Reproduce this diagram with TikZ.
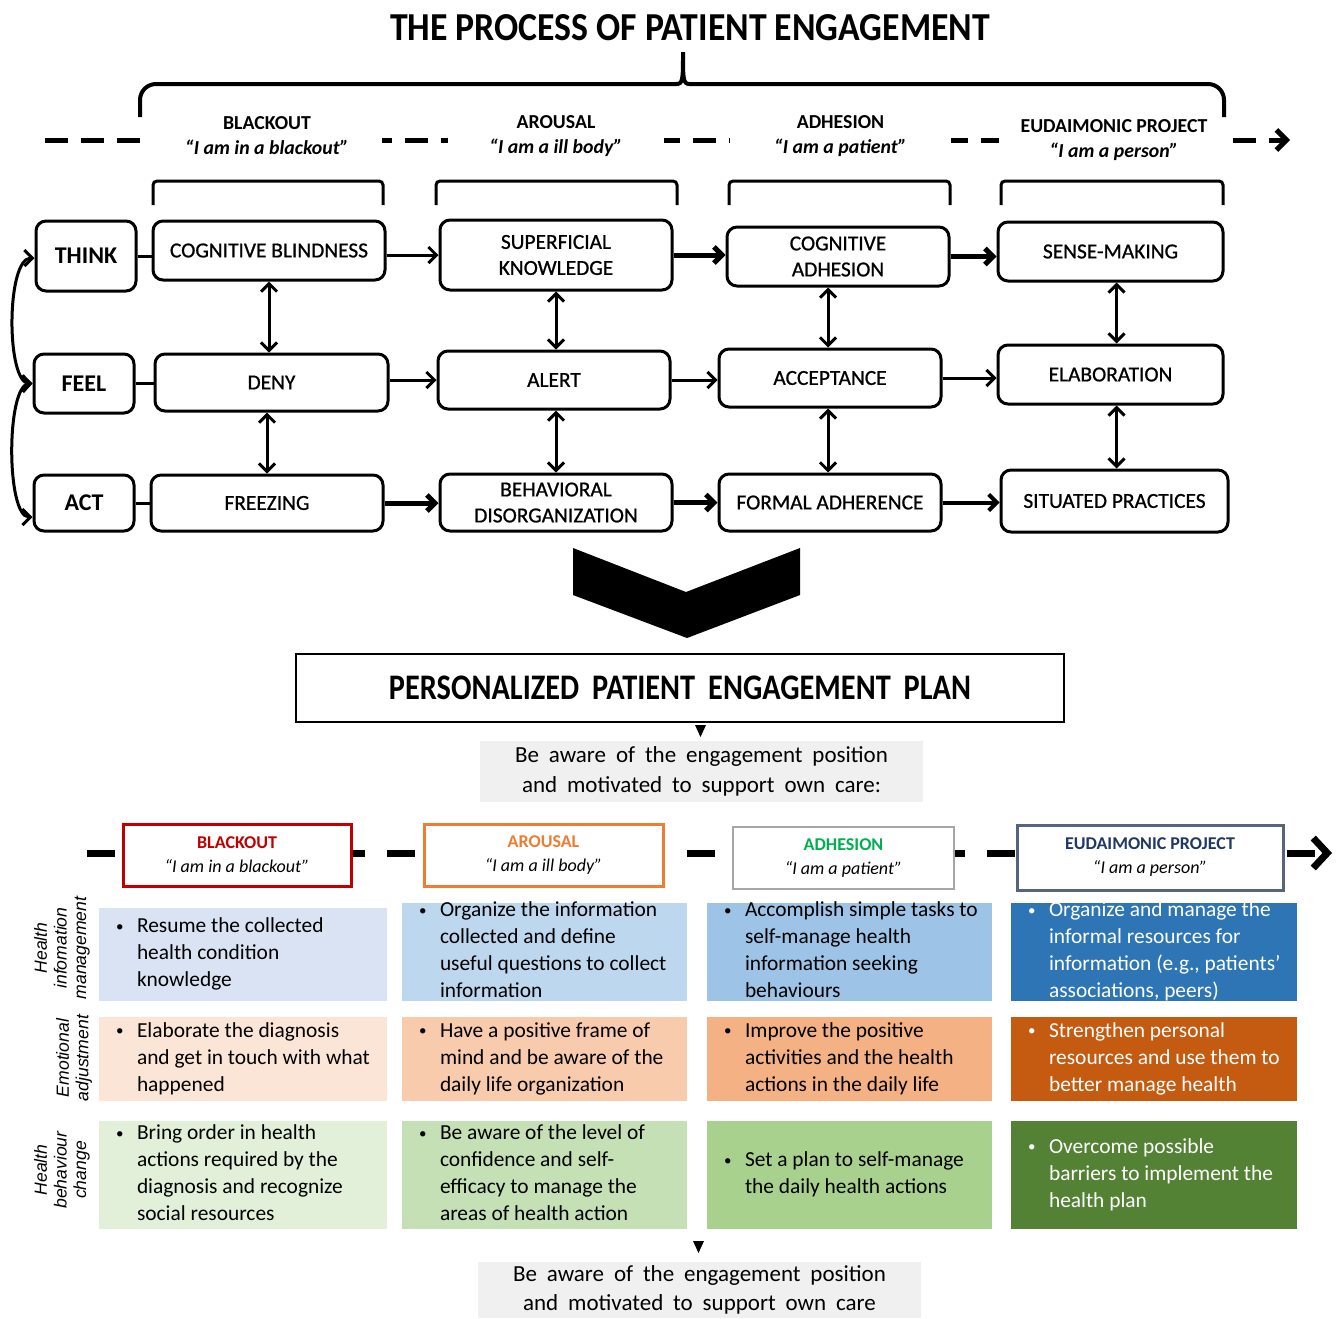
\documentclass[tikz,border=0pt]{standalone}
\usepackage{fontspec}
\setmainfont{Carlito}
\newfontfamily\sidefont{Liberation Sans}
\newfontfamily\widefont{Carlito}[WordSpace=1.9]
\newfontfamily\stagefont{Carlito}[FakeBold=0.8]
\usetikzlibrary{arrows.meta}

\definecolor{bkred}{HTML}{C00000}
\definecolor{arorange}{HTML}{ED7D31}
\definecolor{adgreen}{HTML}{00B050}
\definecolor{eublue}{HTML}{203864}
\definecolor{eugrey}{HTML}{56657A}
\definecolor{adgrey}{HTML}{A6A6A6}
\definecolor{softgrey}{HTML}{F0F0F0}
\definecolor{ia}{HTML}{DAE3F3}
\definecolor{ib}{HTML}{BDD7EE}
\definecolor{ic}{HTML}{9DC3E6}
\definecolor{id}{HTML}{2E75B6}
\definecolor{ea}{HTML}{FBE5D6}
\definecolor{eb}{HTML}{F8CBAD}
\definecolor{ec}{HTML}{F4B183}
\definecolor{ed}{HTML}{C55A11}
\definecolor{ba}{HTML}{E2F0D9}
\definecolor{bb}{HTML}{C5E0B4}
\definecolor{bc}{HTML}{A9D18E}
\definecolor{bd}{HTML}{548235}

% bullet list typeset as a two-column tabular
\newcommand\blist[1]{\begin{tabular}[c]{@{}l@{}l@{}}\makebox[10.5pt][l]{\raisebox{0.15ex}{\scalebox{0.7}{\textbullet}}}&#1\end{tabular}}

\tikzset{
  sz/.style 2 args={minimum width={(#1)*0.5pt}, minimum height={(#2)*0.5pt}},
  stage/.style={draw, line width=1.5pt, rounded corners=5pt, align=center, inner sep=0pt,
    font=\stagefont\fontsize{10.7}{13}\selectfont},
  dimbox/.style={draw, line width=1.5pt, rounded corners=5pt, inner sep=0pt,
    font=\bfseries\fontsize{12}{14}\selectfont},
  barb/.tip={Straight Barb[length=4pt,width=8pt]},
  flow/.style={line width=1.5pt, -barb},
  flowthick/.style={line width=2.5pt, -barb},
  link/.style={line width=1.5pt, barb-barb},
  tie/.style={line width=1.5pt},
  bracket/.style={line width=1.5pt, rounded corners=2pt},
  phase/.style={fill=white, inner sep=0pt, align=center, minimum height=22pt,
    font=\bfseries\fontsize{9.9}{12.5}\selectfont},
  lphase/.style={fill=white, line width=1.5pt, inner sep=0pt, align=center,
    font=\fontsize{9}{12}\selectfont},
  cell/.style={inner sep=0pt},
  celltext/.style={inner sep=0pt, anchor=west, font=\fontsize{10.7}{13.5}\selectfont},
  side/.style={rotate=90, align=center, inner sep=0pt, font=\sidefont\itshape\fontsize{8.8}{9.8}\selectfont},
  aware/.style={fill=softgrey, inner sep=0pt, align=center, font=\widefont\fontsize{11.5}{14.8}\selectfont},
}

\begin{document}
\begin{tikzpicture}[x=0.5pt,y=-0.5pt]
\useasboundingbox (0,0) rectangle (1342,1318);

% ---------- title ----------
\node[inner sep=0pt] (title) at (690,28) {\resizebox{300pt}{13pt}{\bfseries THE PROCESS OF PATIENT ENGAGEMENT}};

% ---------- upper timeline ----------
\coordinate (ts) at (45,140);
\coordinate (te) at (1290,140);
\draw[line width=2.5pt, dash pattern=on 11.5pt off 6.5pt,
      -{Straight Barb[length=5pt,width=10pt]}] (ts) -- (te);

\node[phase, minimum width=114.5pt] (p1) at (267,136) {BLACKOUT\\\itshape “I am in a blackout”};
\node[phase, minimum width=108pt] (p2) at (556,136) {AROUSAL\\\itshape “I am a ill body”};
\node[phase, minimum width=110.5pt] (p3) at (840.5,136) {ADHESION\\\itshape “I am a patient”};
\node[phase, minimum width=115pt] (p4) at (1114,140) {EUDAIMONIC PROJECT\\\itshape “I am a person”};

% big brace over the four phases
\draw[line width=2pt, rounded corners=8pt] (140,117) -- (140,84) -- (677,84);
\draw[line width=2pt] (676,84) .. controls (683,84) and (683,80) .. (683,52)
                      .. controls (683,80) and (683,84) .. (690,84);
\draw[line width=2pt, rounded corners=8pt] (689,84) -- (1224,84) -- (1224,117);

% small brackets over each column
\draw[bracket] (153,205) -- (153,181) -- (383,181) -- (383,205);
\draw[bracket] (436,205) -- (436,181) -- (677,181) -- (677,205);
\draw[bracket] (729,205) -- (729,181) -- (950,181) -- (950,205);
\draw[bracket] (1001,205) -- (1001,181) -- (1223,181) -- (1223,205);

% ---------- dimensions ----------
\node[dimbox, sz={100}{70}] (think) at (86,256) {THINK};
\node[dimbox, sz={100}{59}] (feel) at (84,383.5) {FEEL};
\node[dimbox, sz={100}{56}] (act) at (84,503) {ACT};

% ---------- stages ----------
\node[stage, sz={232}{59}] (cb) at (269,250.5) {COGNITIVE BLINDNESS};
\node[stage, sz={233}{57}] (deny) at (271.5,382.5) {DENY};
\node[stage, sz={232}{56}] (frz) at (267,503) {FREEZING};

\node[stage, sz={232}{70}] (sk) at (556,255) {SUPERFICIAL\\KNOWLEDGE};
\node[stage, sz={232}{58}] (alert) at (554,380) {ALERT};
\node[stage, sz={232}{57}] (bdis) at (556,502.5) {BEHAVIORAL\\DISORGANIZATION};

\node[stage, sz={222}{59}] (ca) at (838,256.5) {COGNITIVE\\ADHESION};
\node[stage, sz={222}{58}] (acc) at (830,378) {ACCEPTANCE};
\node[stage, sz={222}{57}] (fa) at (830,502.5) {FORMAL ADHERENCE};

\node[stage, sz={225}{59}] (sm) at (1110.5,251.5) {SENSE-MAKING};
\node[stage, sz={225}{59}] (elab) at (1110.5,374.5) {ELABORATION};
\node[stage, sz={227}{62}] (sp) at (1114.5,501) {SITUATED PRACTICES};

% dimension ties
\draw[tie] (think.east) -- (think.east -| cb.west);
\draw[tie] (feel.east) -- (feel.east -| deny.west);
\draw[tie] (act.east) -- (act.east -| frz.west);

% loops between dimensions
\draw[link] ([yshift=-1pt]think.west) .. controls (6,258) and (6,383) .. (feel.west);
\draw[link] (feel.west) .. controls (6,385) and (6,517) .. ([yshift=-7pt]act.west);

% progression along each row
\draw[flow] (sk.west -| cb.east) -- (sk.west);
\draw[flowthick] (sk.east) -- (sk.east -| ca.west);
\draw[flowthick] (ca.east) -- (ca.east -| sm.west);
\draw[flow] (alert.west -| deny.east) -- (alert.west);
\draw[flow] (alert.east) -- (alert.east -| acc.west);
\draw[flow] (acc.east) -- (acc.east -| elab.west);
\draw[flowthick] (frz.east) -- (frz.east -| bdis.west);
\draw[flowthick] (bdis.east) -- (bdis.east -| fa.west);
\draw[flow, line width=2pt] (fa.east) -- (fa.east -| sp.west);

% links within each column
\draw[link] (cb.south) -- (cb.south |- deny.north);
\draw[link] (frz.north |- deny.south) -- (frz.north);
\draw[link] (sk.south) -- (sk.south |- alert.north);
\draw[link] (bdis.north |- alert.south) -- (bdis.north);
\draw[link] ([xshift=-5pt]ca.south) -- ([xshift=-5pt]ca.south |- acc.north);
\draw[link] ([xshift=-1pt]acc.south) -- ([xshift=-1pt]acc.south |- fa.north);
\draw[link] ([xshift=3pt]sm.south) -- ([xshift=3pt]sm.south |- elab.north);
\draw[link] ([xshift=3pt]elab.south) -- ([xshift=3pt]elab.south |- sp.north);

% ---------- chevron ----------
\fill (573,548) -- (686,592) -- (800,548) -- (800,595) -- (687,638) -- (573,595) -- cycle;

% ---------- plan ----------
\node[draw, line width=1pt, sz={768}{68}, inner sep=0pt] (plan) at (680,688)
  {\resizebox{291pt}{11.8pt}{\bfseries\widefont PERSONALIZED PATIENT ENGAGEMENT PLAN}};
\node[aware, sz={443}{61}] (aw1) at (701.5,771.5)
  {Be aware of the engagement position\\and motivated to support own care:};
\fill (695,725) -- (706,725) -- (700.5,737) -- cycle;

% ---------- lower timeline ----------
\coordinate (ls) at (87,853);
\coordinate (le) at (1332,853);
\draw[line width=3.5pt, dash pattern=on 14pt off 11pt,
      -{Straight Barb[length=7pt,width=15pt]}] (ls) -- (le);

\node[lphase, draw=bkred, sz={228}{62}] (lp1) at (237,855)
  {\textbf{\color{bkred}BLACKOUT}\\\itshape “I am in a blackout”};
\node[lphase, draw=arorange, sz={239}{62}] (lp2) at (543.5,855)
  {\textbf{\color{arorange}AROUSAL}\\\itshape “I am a ill body”};
\node[lphase, draw=adgrey, line width=1.2pt, sz={221}{62}] (lp3) at (843.5,858)
  {\textbf{\color{adgreen}ADHESION}\\\itshape “I am a patient”};
\node[lphase, draw=eugrey, sz={266}{65}] (lp4) at (1150,857.5)
  {\textbf{\color{eublue}EUDAIMONIC PROJECT}\\\itshape “I am a person”};

% ---------- row labels ----------
\node[side] (s1) at (62,948) {Health\\infomation\\management};
\node[side] (s2) at (74,1058) {Emotional\\adjustment};
\node[side] (s3) at (62,1170) {Health\\behaviour\\change};

% ---------- grid: health information management ----------
\node[cell, fill=ia, sz={288}{93}] (g11) at (243,954.5) {};
\node[cell, fill=ib, sz={285}{98}] (g12) at (544.5,952) {};
\node[cell, fill=ic, sz={285}{98}] (g13) at (849.5,952) {};
\node[cell, fill=id, sz={286}{98}] (g14) at (1154,952) {};
\node[celltext] (t11) at ([xshift=8.5pt]g11.west) {\blist{Resume the collected\\&health condition\\&knowledge}};
\node[celltext] (t12) at ([xshift=8.5pt]g12.west) {\blist{Organize the information\\&collected and define\\&useful questions to collect\\&information}};
\node[celltext] (t13) at ([xshift=8.5pt]g13.west) {\blist{Accomplish simple tasks to\\&self-manage health\\&information seeking\\&behaviours}};
\node[celltext, text=white] (t14) at ([xshift=8.5pt]g14.west) {\blist{Organize and manage the\\&informal resources for\\&information (e.g., patients’\\&associations, peers)}};

% ---------- grid: emotional adjustment ----------
\node[cell, fill=ea, sz={288}{84}] (g21) at (243,1059) {};
\node[cell, fill=eb, sz={285}{84}] (g22) at (544.5,1059) {};
\node[cell, fill=ec, sz={285}{84}] (g23) at (849.5,1059) {};
\node[cell, fill=ed, sz={286}{84}] (g24) at (1154,1059) {};
\node[celltext] (t21) at ([xshift=8.5pt]g21.west) {\blist{Elaborate the diagnosis\\&and get in touch with what\\&happened}};
\node[celltext] (t22) at ([xshift=8.5pt]g22.west) {\blist{Have a positive frame of\\&mind and be aware of the\\&daily life organization}};
\node[celltext] (t23) at ([xshift=8.5pt]g23.west) {\blist{Improve the positive\\&activities and the health\\&actions in the daily life}};
\node[celltext, text=white] (t24) at ([xshift=8.5pt]g24.west) {\blist{Strengthen personal\\&resources and use them to\\&better manage health}};

% ---------- grid: health behaviour change ----------
\node[cell, fill=ba, sz={288}{108}] (g31) at (243,1175) {};
\node[cell, fill=bb, sz={285}{108}] (g32) at (544.5,1175) {};
\node[cell, fill=bc, sz={285}{108}] (g33) at (849.5,1175) {};
\node[cell, fill=bd, sz={286}{108}] (g34) at (1154,1175) {};
\node[celltext] (t31) at ([xshift=8.5pt]g31.west) {\blist{Bring order in health\\&actions required by the\\&diagnosis and recognize\\&social resources}};
\node[celltext] (t32) at ([xshift=8.5pt]g32.west) {\blist{Be aware of the level of\\&confidence and self-\\&efficacy to manage the\\&areas of health action}};
\node[celltext] (t33) at ([xshift=8.5pt]g33.west) {\blist{Set a plan to self-manage\\&the daily health actions}};
\node[celltext, text=white] (t34) at ([xshift=8.5pt]g34.west) {\blist{Overcome possible\\&barriers to implement the\\&health plan}};

% ---------- closing statement ----------
\fill (693,1241) -- (704,1241) -- (698.5,1253) -- cycle;
\node[aware, sz={443}{56}] (aw2) at (699.5,1290)
  {Be aware of the engagement position\\and motivated to support own care};

\end{tikzpicture}
\end{document}
